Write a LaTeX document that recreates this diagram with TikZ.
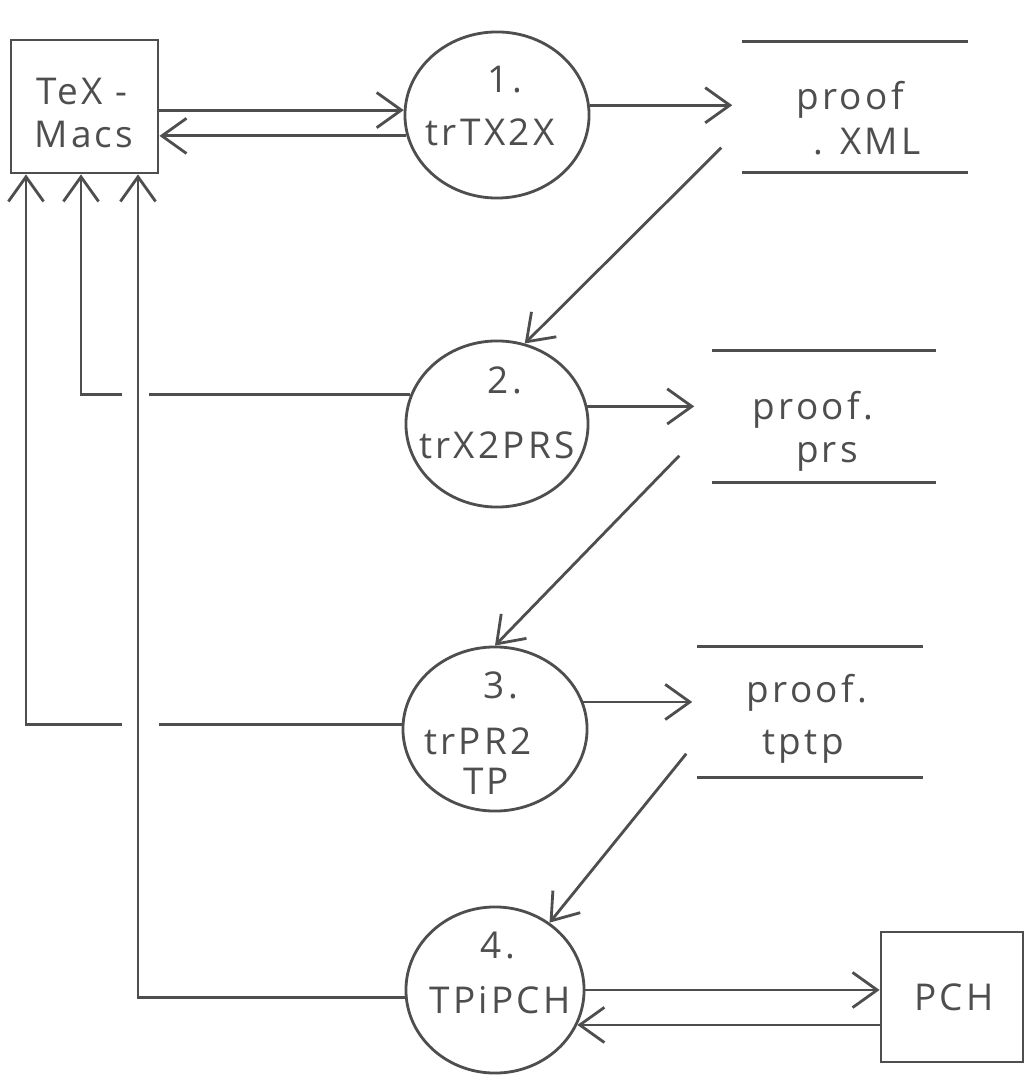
\documentclass[tikz,border=0pt]{standalone}
\usepackage{fontspec}
\setmainfont{Open Sans}
\newfontfamily\handfont[LetterSpace=9]{Open Sans}
\usetikzlibrary{shapes.geometric,arrows.meta,calc}
\definecolor{ink}{RGB}{78,78,78}
\begin{document}
\begin{tikzpicture}[x=0.01cm,y=-0.01cm,
  inkline/.style={draw=ink, line width=0.8pt},
  arr/.style={inkline, -{Straight Barb[length=7pt,width=10pt]}},
  lbl/.style={text=ink, font=\handfont\fontsize{10.5}{12}\selectfont, inner sep=0pt},
  proc/.style={ellipse, inkline, inner sep=0pt},
  ext/.style={rectangle, inkline, inner sep=0pt},
  store/.style={rectangle, inner sep=0pt}]
\useasboundingbox[fill=white] (0,0) rectangle (1035,1080);

% external entities
\node[ext, minimum width=1.47cm, minimum height=1.33cm] (tm) at (84.5,106.5) {};
\node[lbl] (tmt1) at (82,92) {TeX -};
\node[lbl] (tmt2) at (84,135) {Macs};
\node[ext, minimum width=1.42cm, minimum height=1.30cm] (pch) at (952,997) {};
\node[lbl] (pcht) at (954,997) {PCH};

% processes
\node[proc, minimum width=1.84cm, minimum height=1.66cm] (p1) at (497,115) {};
\node[lbl] (p1n) at (505,80) {1.};
\node[lbl] (p1t) at (490,132) {trTX2X};
\node[proc, minimum width=1.82cm, minimum height=1.66cm] (p2) at (497,424) {};
\node[lbl] (p2n) at (505,380) {2.};
\node[lbl] (p2t) at (497,445) {trX2PRS};
\node[proc, minimum width=1.84cm, minimum height=1.64cm] (p3) at (495,729) {};
\node[lbl] (p3n) at (501,685) {3.};
\node[lbl] (p3t) at (478,741) {trPR2};
\node[lbl] (p3u) at (486,781) {TP};
\node[proc, minimum width=1.78cm, minimum height=1.66cm] (p4) at (495,990) {};
\node[lbl] (p4n) at (498,945) {4.};
\node[lbl] (p4t) at (500,1000) {TPiPCH};

% data stores
\node[store, minimum width=2.24cm, minimum height=1.30cm] (s1) at (855,107) {};
\draw[inkline] (s1.north west) -- (s1.north east) (s1.south west) -- (s1.south east);
\node[lbl] (s1a) at (850,100) {proof};
\node[lbl] (s1b) at (867,142) {. XML};
\node[store, minimum width=2.22cm, minimum height=1.31cm] (s2) at (824,416.5) {};
\draw[inkline] (s2.north west) -- (s2.north east) (s2.south west) -- (s2.south east);
\node[lbl] (s2a) at (813,410) {proof.};
\node[lbl] (s2b) at (827,457) {prs};
\node[store, minimum width=2.24cm, minimum height=1.30cm] (s3) at (810,712) {};
\draw[inkline] (s3.north west) -- (s3.north east) (s3.south west) -- (s3.south east);
\node[lbl] (s3a) at (807,693) {proof.};
\node[lbl] (s3b) at (803,747) {tptp};

% trunk x positions
\coordinate (v1) at (26,500);
\coordinate (v2) at (81,300);
\coordinate (v3) at (138,600);

% flows
\draw[arr] (tm.east |- p1.177) -- (p1.177);
\draw[arr] (p1.193) -- (tm.east |- p1.193);
\draw[arr, shorten >=0.1cm] (p1.6) -- (s1.west |- p1.6);
\coordinate (d1) at ([shift={(-21,-25)}]s1.south west);
\draw[arr] (d1) -- (p2.71);

\draw[arr, shorten >=0.18cm] (p2.11) -- (s2.west |- p2.11);
\coordinate (d2) at ([shift={(-33,-27)}]s2.south west);
\draw[arr] (d2) -- (p3.north);

\draw[arr, shorten >=0.05cm] (p3.17) -- (s3.west |- p3.17);
\coordinate (d3) at ([shift={(-11,-24)}]s3.south west);
\draw[arr] (d3) -- (p4.51);

\draw[arr] (p4.0) -- (pch.west |- p4.0);
\draw[arr] (pch.west |- p4.337) -- (p4.337);

% returns to TeXmacs
\draw[inkline] (p2.161) -- ($(p2.161 -| v3)+(11,0)$);
\draw[arr] ($(p2.161 -| v3)+(-16,0)$) -- (p2.161 -| v2) -- (tm.south -| v2);
\draw[inkline] (p3.177) -- ($(p3.177 -| v3)+(21,0)$);
\draw[arr] ($(p3.177 -| v3)+(-16,0)$) -- (p3.177 -| v1) -- (tm.south -| v1);
\draw[arr] (p4.185) -- (p4.185 -| v3) -- (tm.south -| v3);
\end{tikzpicture}
\end{document}
